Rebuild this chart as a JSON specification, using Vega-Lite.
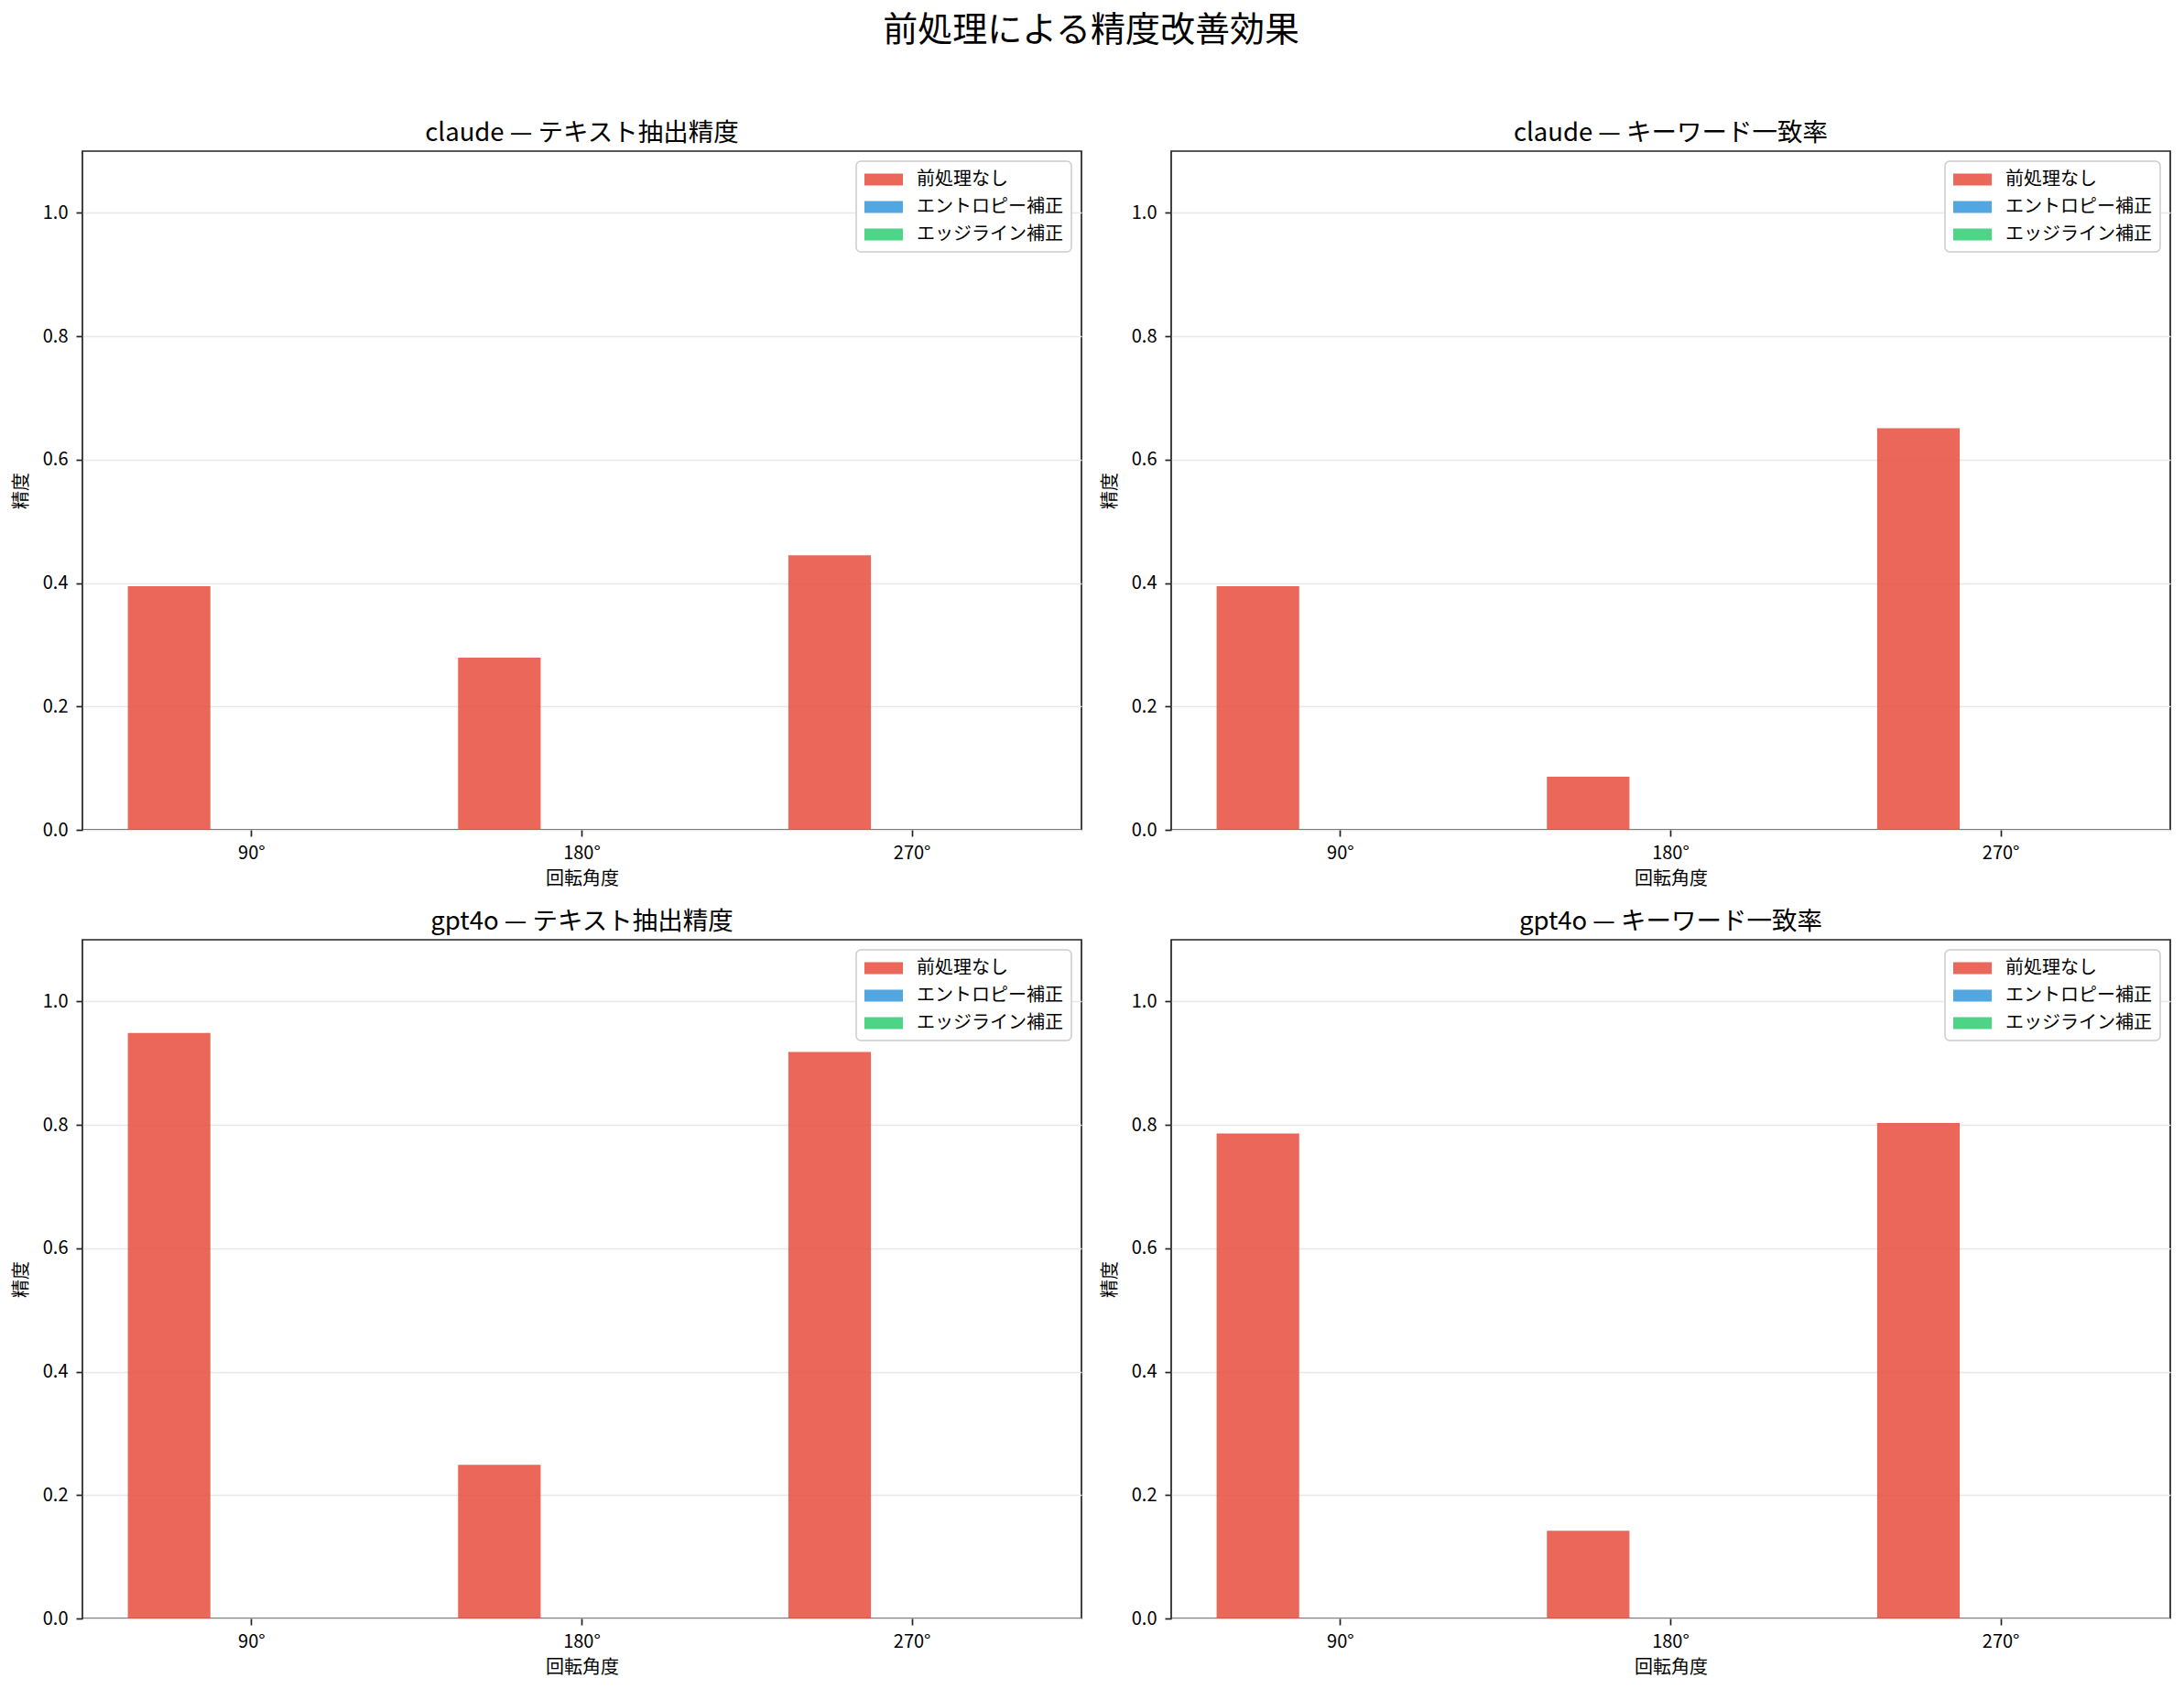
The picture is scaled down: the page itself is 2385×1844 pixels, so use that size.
{
  "$schema": "https://vega.github.io/schema/vega-lite/v6.json",
  "background": "white",
  "padding": {"left": 12, "top": 14, "right": 5, "bottom": 5},
  "title": {"text": "前処理による精度改善効果", "fontSize": 38, "fontWeight": "normal", "font": "Noto Sans CJK JP", "color": "#000000", "anchor": "middle", "offset": 78},
  "datasets": {
    "main": [
      {"model": "claude", "metric": "テキスト抽出精度", "angle": "90°", "method": "前処理なし", "value": 0.395},
      {"model": "claude", "metric": "テキスト抽出精度", "angle": "90°", "method": "エントロピー補正", "value": 0},
      {"model": "claude", "metric": "テキスト抽出精度", "angle": "90°", "method": "エッジライン補正", "value": 0},
      {"model": "claude", "metric": "テキスト抽出精度", "angle": "180°", "method": "前処理なし", "value": 0.279},
      {"model": "claude", "metric": "テキスト抽出精度", "angle": "180°", "method": "エントロピー補正", "value": 0},
      {"model": "claude", "metric": "テキスト抽出精度", "angle": "180°", "method": "エッジライン補正", "value": 0},
      {"model": "claude", "metric": "テキスト抽出精度", "angle": "270°", "method": "前処理なし", "value": 0.445},
      {"model": "claude", "metric": "テキスト抽出精度", "angle": "270°", "method": "エントロピー補正", "value": 0},
      {"model": "claude", "metric": "テキスト抽出精度", "angle": "270°", "method": "エッジライン補正", "value": 0},
      {"model": "claude", "metric": "キーワード一致率", "angle": "90°", "method": "前処理なし", "value": 0.395},
      {"model": "claude", "metric": "キーワード一致率", "angle": "90°", "method": "エントロピー補正", "value": 0},
      {"model": "claude", "metric": "キーワード一致率", "angle": "90°", "method": "エッジライン補正", "value": 0},
      {"model": "claude", "metric": "キーワード一致率", "angle": "180°", "method": "前処理なし", "value": 0.086},
      {"model": "claude", "metric": "キーワード一致率", "angle": "180°", "method": "エントロピー補正", "value": 0},
      {"model": "claude", "metric": "キーワード一致率", "angle": "180°", "method": "エッジライン補正", "value": 0},
      {"model": "claude", "metric": "キーワード一致率", "angle": "270°", "method": "前処理なし", "value": 0.651},
      {"model": "claude", "metric": "キーワード一致率", "angle": "270°", "method": "エントロピー補正", "value": 0},
      {"model": "claude", "metric": "キーワード一致率", "angle": "270°", "method": "エッジライン補正", "value": 0},
      {"model": "gpt4o", "metric": "テキスト抽出精度", "angle": "90°", "method": "前処理なし", "value": 0.949},
      {"model": "gpt4o", "metric": "テキスト抽出精度", "angle": "90°", "method": "エントロピー補正", "value": 0},
      {"model": "gpt4o", "metric": "テキスト抽出精度", "angle": "90°", "method": "エッジライン補正", "value": 0},
      {"model": "gpt4o", "metric": "テキスト抽出精度", "angle": "180°", "method": "前処理なし", "value": 0.249},
      {"model": "gpt4o", "metric": "テキスト抽出精度", "angle": "180°", "method": "エントロピー補正", "value": 0},
      {"model": "gpt4o", "metric": "テキスト抽出精度", "angle": "180°", "method": "エッジライン補正", "value": 0},
      {"model": "gpt4o", "metric": "テキスト抽出精度", "angle": "270°", "method": "前処理なし", "value": 0.918},
      {"model": "gpt4o", "metric": "テキスト抽出精度", "angle": "270°", "method": "エントロピー補正", "value": 0},
      {"model": "gpt4o", "metric": "テキスト抽出精度", "angle": "270°", "method": "エッジライン補正", "value": 0},
      {"model": "gpt4o", "metric": "キーワード一致率", "angle": "90°", "method": "前処理なし", "value": 0.786},
      {"model": "gpt4o", "metric": "キーワード一致率", "angle": "90°", "method": "エントロピー補正", "value": 0},
      {"model": "gpt4o", "metric": "キーワード一致率", "angle": "90°", "method": "エッジライン補正", "value": 0},
      {"model": "gpt4o", "metric": "キーワード一致率", "angle": "180°", "method": "前処理なし", "value": 0.142},
      {"model": "gpt4o", "metric": "キーワード一致率", "angle": "180°", "method": "エントロピー補正", "value": 0},
      {"model": "gpt4o", "metric": "キーワード一致率", "angle": "180°", "method": "エッジライン補正", "value": 0},
      {"model": "gpt4o", "metric": "キーワード一致率", "angle": "270°", "method": "前処理なし", "value": 0.803},
      {"model": "gpt4o", "metric": "キーワード一致率", "angle": "270°", "method": "エントロピー補正", "value": 0},
      {"model": "gpt4o", "metric": "キーワード一致率", "angle": "270°", "method": "エッジライン補正", "value": 0}
    ]
  },
  "data": {"name": "main"},
  "columns": 2,
  "spacing": {"row": 120, "column": 98},
  "bounds": "flush",
  "resolve": {"legend": {"color": "independent"}},
  "concat": [
    {
      "title": "claude — テキスト抽出精度",
      "width": 1091, "height": 741,
      "transform": [{"filter": "datum.model == 'claude' && datum.metric == 'テキスト抽出精度'"}],
      "mark": {"type": "bar", "opacity": 0.85},
      "encoding": {
        "x": {"field": "angle", "type": "nominal", "sort": ["90°", "180°", "270°"], "scale": {"paddingInner": 0.25, "paddingOuter": 0.1375}, "title": "回転角度"},
        "xOffset": {"field": "method", "type": "nominal", "sort": ["前処理なし", "エントロピー補正", "エッジライン補正"]},
        "y": {"field": "value", "type": "quantitative", "scale": {"domain": [0, 1.1], "nice": false}, "axis": {"values": [0, 0.2, 0.4, 0.6, 0.8, 1.0], "format": ".1f"}, "title": "精度"},
        "color": {"field": "method", "type": "nominal", "scale": {"domain": ["前処理なし", "エントロピー補正", "エッジライン補正"], "range": ["#e74c3c", "#3498db", "#2ecc71"]}, "legend": {"title": null, "orient": "top-right"}}
      }
    },
    {
      "title": "claude — キーワード一致率",
      "width": 1091, "height": 741,
      "transform": [{"filter": "datum.model == 'claude' && datum.metric == 'キーワード一致率'"}],
      "mark": {"type": "bar", "opacity": 0.85},
      "encoding": {
        "x": {"field": "angle", "type": "nominal", "sort": ["90°", "180°", "270°"], "scale": {"paddingInner": 0.25, "paddingOuter": 0.1375}, "title": "回転角度"},
        "xOffset": {"field": "method", "type": "nominal", "sort": ["前処理なし", "エントロピー補正", "エッジライン補正"]},
        "y": {"field": "value", "type": "quantitative", "scale": {"domain": [0, 1.1], "nice": false}, "axis": {"values": [0, 0.2, 0.4, 0.6, 0.8, 1.0], "format": ".1f"}, "title": "精度"},
        "color": {"field": "method", "type": "nominal", "scale": {"domain": ["前処理なし", "エントロピー補正", "エッジライン補正"], "range": ["#e74c3c", "#3498db", "#2ecc71"]}, "legend": {"title": null, "orient": "top-right"}}
      }
    },
    {
      "title": "gpt4o — テキスト抽出精度",
      "width": 1091, "height": 741,
      "transform": [{"filter": "datum.model == 'gpt4o' && datum.metric == 'テキスト抽出精度'"}],
      "mark": {"type": "bar", "opacity": 0.85},
      "encoding": {
        "x": {"field": "angle", "type": "nominal", "sort": ["90°", "180°", "270°"], "scale": {"paddingInner": 0.25, "paddingOuter": 0.1375}, "title": "回転角度"},
        "xOffset": {"field": "method", "type": "nominal", "sort": ["前処理なし", "エントロピー補正", "エッジライン補正"]},
        "y": {"field": "value", "type": "quantitative", "scale": {"domain": [0, 1.1], "nice": false}, "axis": {"values": [0, 0.2, 0.4, 0.6, 0.8, 1.0], "format": ".1f"}, "title": "精度"},
        "color": {"field": "method", "type": "nominal", "scale": {"domain": ["前処理なし", "エントロピー補正", "エッジライン補正"], "range": ["#e74c3c", "#3498db", "#2ecc71"]}, "legend": {"title": null, "orient": "top-right"}}
      }
    },
    {
      "title": "gpt4o — キーワード一致率",
      "width": 1091, "height": 741,
      "transform": [{"filter": "datum.model == 'gpt4o' && datum.metric == 'キーワード一致率'"}],
      "mark": {"type": "bar", "opacity": 0.85},
      "encoding": {
        "x": {"field": "angle", "type": "nominal", "sort": ["90°", "180°", "270°"], "scale": {"paddingInner": 0.25, "paddingOuter": 0.1375}, "title": "回転角度"},
        "xOffset": {"field": "method", "type": "nominal", "sort": ["前処理なし", "エントロピー補正", "エッジライン補正"]},
        "y": {"field": "value", "type": "quantitative", "scale": {"domain": [0, 1.1], "nice": false}, "axis": {"values": [0, 0.2, 0.4, 0.6, 0.8, 1.0], "format": ".1f"}, "title": "精度"},
        "color": {"field": "method", "type": "nominal", "scale": {"domain": ["前処理なし", "エントロピー補正", "エッジライン補正"], "range": ["#e74c3c", "#3498db", "#2ecc71"]}, "legend": {"title": null, "orient": "top-right"}}
      }
    }
  ],
  "config": {
    "font": "Noto Sans CJK JP",
    "view": {"stroke": "#222222", "strokeWidth": 1.7},
    "title": {"fontSize": 27.5, "fontWeight": "normal", "color": "#000000", "offset": 6, "font": "Noto Sans CJK JP"},
    "axis": {"labelFont": "Noto Sans CJK JP", "titleFont": "Noto Sans CJK JP", "labelFontSize": 20, "labelColor": "#000000", "titleFontSize": 20, "titleFontWeight": "normal", "titleColor": "#000000", "domain": false, "tickColor": "#222222", "tickWidth": 1.7, "tickSize": 7, "labelPadding": 6},
    "axisX": {"labelAngle": 0, "grid": false, "labelPadding": 8, "titlePadding": 8},
    "axisY": {"grid": true, "gridColor": "#e8e8e8", "gridWidth": 1.5, "labelPadding": 9, "titlePadding": 13},
    "legend": {"offset": 11, "padding": 9, "fillColor": "white", "strokeColor": "#cccccc", "strokeWidth": 1.5, "cornerRadius": 5, "labelFont": "Noto Sans CJK JP", "labelFontSize": 20, "labelColor": "#000000", "symbolType": "M-1,-0.6L2.82,-0.6L2.82,0.6L-1,0.6Z", "symbolSize": 484, "symbolStrokeWidth": 0, "symbolOpacity": 0.85, "labelOffset": 35, "rowPadding": 9}
  }
}
